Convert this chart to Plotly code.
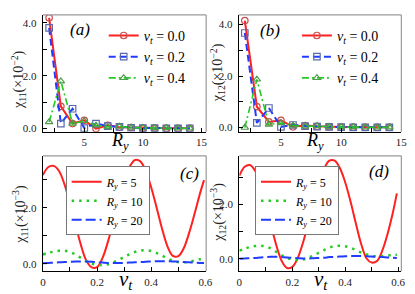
import plotly.graph_objects as go

# ---------------- data ----------------
ry = [2, 3, 4, 5, 6, 7, 8, 9, 10, 11, 12, 13, 14]
chi11_vt00 = [4.19, 0.84, 0.19, 0.31, 0.00, 0.12, 0.05, 0.04, 0.02, 0.02, 0.01, 0.01, 0.01]
chi11_vt02 = [3.81, 0.19, 0.75, 0.02, 0.19, 0.09, 0.06, 0.03, 0.02, 0.02, 0.01, 0.01, 0.01]
chi11_vt04 = [0.25, 1.79, 0.19, 0.29, 0.12, 0.06, 0.08, 0.04, 0.03, 0.02, 0.02, 0.01, 0.01]
chi12_vt00 = [4.15, 0.81, 0.22, 0.28, 0.03, 0.08, 0.05, 0.03, 0.02, 0.02, 0.01, 0.01, 0.01]
chi12_vt02 = [3.67, 0.18, 0.76, 0.03, 0.10, 0.06, 0.04, 0.03, 0.02, 0.01, 0.01, 0.01, 0.01]
chi12_vt04 = [0.00, 1.87, 0.12, 0.18, 0.08, 0.05, 0.06, 0.03, 0.02, 0.02, 0.01, 0.01, 0.01]

vt = [0.0, 0.02, 0.04, 0.06, 0.08, 0.10, 0.12, 0.14, 0.16, 0.18, 0.20, 0.22, 0.24, 0.26,
      0.28, 0.30, 0.32, 0.34, 0.36, 0.38, 0.40, 0.42, 0.44, 0.46, 0.48, 0.50, 0.52, 0.54,
      0.56, 0.58, 0.595]
chi11_ry5 = [3.16, 3.45, 3.49, 3.30, 2.82, 2.15, 1.40, 0.68, 0.12, -0.13, -0.12, 0.20, 0.78,
             1.50, 2.28, 2.97, 3.45, 3.70, 3.65, 3.30, 2.72, 2.00, 1.25, 0.62, 0.28, 0.27,
             0.55, 1.10, 1.78, 2.50, 2.98]
chi11_ry10 = [0.33, 0.39, 0.43, 0.46, 0.46, 0.42, 0.33, 0.21, 0.09, 0.00, -0.04, -0.05, -0.02,
              0.05, 0.14, 0.24, 0.34, 0.42, 0.47, 0.48, 0.45, 0.38, 0.29, 0.19, 0.11, 0.06,
              0.05, 0.07, 0.11, 0.16, 0.20]
chi11_ry20 = [0.02, 0.03, 0.04, 0.05, 0.06, 0.07, 0.08, 0.08, 0.08, 0.07, 0.05, 0.04, 0.03,
              0.03, 0.03, 0.03, 0.04, 0.05, 0.06, 0.07, 0.08, 0.09, 0.09, 0.09, 0.08, 0.07,
              0.06, 0.05, 0.04, 0.03, 0.03]
chi12_ry5 = [3.05, 3.38, 3.44, 3.22, 2.72, 2.02, 1.22, 0.48, -0.08, -0.34, -0.30, 0.02, 0.58,
             1.30, 2.08, 2.78, 3.30, 3.60, 3.60, 3.32, 2.80, 2.10, 1.30, 0.55, 0.02, -0.14,
             -0.08, 0.30, 0.92, 1.70, 2.40]
chi12_ry10 = [0.30, 0.37, 0.43, 0.47, 0.48, 0.45, 0.37, 0.25, 0.13, 0.03, -0.03, -0.05, -0.03,
              0.03, 0.12, 0.22, 0.32, 0.41, 0.46, 0.48, 0.46, 0.40, 0.32, 0.23, 0.16, 0.11,
              0.09, 0.10, 0.12, 0.14, 0.15]
chi12_ry20 = [0.00, 0.01, 0.02, 0.03, 0.05, 0.06, 0.07, 0.07, 0.06, 0.05, 0.03, 0.02, 0.01,
              0.01, 0.02, 0.03, 0.04, 0.06, 0.07, 0.08, 0.09, 0.10, 0.10, 0.10, 0.09, 0.08,
              0.07, 0.06, 0.05, 0.04, 0.03]

vt_labels = ["<i>v</i><sub><i>t</i></sub> = 0.0", "<i>v</i><sub><i>t</i></sub> = 0.2",
             "<i>v</i><sub><i>t</i></sub> = 0.4"]
ry_labels = ["<i>R</i><sub><i>y</i></sub> = 5", "<i>R</i><sub><i>y</i></sub> = 10",
             "<i>R</i><sub><i>y</i></sub> = 20"]

# ---------------- styling ----------------
FONT = "Liberation Serif"
W, H = 415, 294
RED, BLUE, GREEN = "#ff2020", "#1f3cff", "#22cc22"
MRED, MBLUE, MGREEN = "#c85050", "#5a6aa8", "#4c9c4c"

fig = go.Figure()

top_series = [
    (chi11_vt00, chi11_vt02, chi11_vt04, "x", "y", "legend"),
    (chi12_vt00, chi12_vt02, chi12_vt04, "x2", "y2", "legend2"),
]
for s0, s2, s4, xa, ya, lg in top_series:
    fig.add_trace(go.Scatter(x=ry, y=s0, xaxis=xa, yaxis=ya, legend=lg, name=vt_labels[0],
                             mode="lines+markers", line=dict(color=RED, width=2),
                             marker=dict(symbol="circle-open", size=6.5, color=MRED,
                                         line=dict(width=1.2))))
    fig.add_trace(go.Scatter(x=ry, y=s2, xaxis=xa, yaxis=ya, legend=lg, name=vt_labels[1],
                             mode="lines+markers", line=dict(color=BLUE, width=2, dash="7px,4px"),
                             marker=dict(symbol="square-open", size=6.5, color=MBLUE,
                                         line=dict(width=1.2))))
    fig.add_trace(go.Scatter(x=ry, y=s4, xaxis=xa, yaxis=ya, legend=lg, name=vt_labels[2],
                             mode="lines+markers",
                             line=dict(color=GREEN, width=1.6, dash="7px,3px,2px,3px"),
                             marker=dict(symbol="triangle-up-open", size=6.5, color=MGREEN,
                                         line=dict(width=1.2))))

bot_series = [
    (chi11_ry5, chi11_ry10, chi11_ry20, "x3", "y3", "legend3"),
    (chi12_ry5, chi12_ry10, chi12_ry20, "x4", "y4", "legend4"),
]
for s5, s10, s20, xa, ya, lg in bot_series:
    fig.add_trace(go.Scatter(x=vt, y=s5, xaxis=xa, yaxis=ya, legend=lg, name=ry_labels[0],
                             mode="lines", line=dict(color=RED, width=2, shape="spline")))
    fig.add_trace(go.Scatter(x=vt, y=s10, xaxis=xa, yaxis=ya, legend=lg, name=ry_labels[1],
                             mode="lines", line=dict(color=GREEN, width=2.5, dash="2.5px,5px",
                                                      shape="spline")))
    fig.add_trace(go.Scatter(x=vt, y=s20, xaxis=xa, yaxis=ya, legend=lg, name=ry_labels[2],
                             mode="lines", line=dict(color=BLUE, width=2, dash="10px,4px",
                                                      shape="spline")))


def px(x):
    return x / W


def py(y):
    return 1 - y / H


axis_common = dict(showline=True, linecolor="black", linewidth=1.2, mirror=False,
                   ticks="inside", ticklen=4, tickcolor="black", showgrid=False,
                   zeroline=False, tickfont=dict(family=FONT, size=11, color="#222"))

fig.update_layout(
    width=W, height=H, autosize=False,
    margin=dict(l=0, r=0, t=0, b=0),
    paper_bgcolor="white", plot_bgcolor="white",
    font=dict(family=FONT, color="black"),
    xaxis=dict(domain=[px(32.7), px(200)], range=[1.47, 15.4], anchor="y",
               tickvals=[2.5, 5, 7.5, 10, 12.5, 15], ticktext=["", "5", "", "10", "", "15"],
               **axis_common),
    yaxis=dict(domain=[py(125), py(7)], range=[-0.12, 4.3], anchor="x",
               tickvals=[0, 1, 2, 3, 4], ticktext=["0.0", "", "2.0", "", "4.0"],
               ticklabelstandoff=3, **axis_common),
    xaxis2=dict(domain=[px(233.3), px(400)], range=[1.49, 15.0], anchor="y2",
                tickvals=[2.5, 5, 7.5, 10, 12.5, 15], ticktext=["", "5", "", "10", "", "15"],
                **axis_common),
    yaxis2=dict(domain=[py(125), py(7)], range=[-0.16, 4.37], anchor="x2",
                tickvals=[0, 1, 2, 3, 4], ticktext=["0.0", "", "2.0", "", "4.0"],
                ticklabelstandoff=3, **axis_common),
    xaxis3=dict(domain=[px(32.7), px(200)], range=[0, 0.603], anchor="y3",
                tickvals=[0, 0.1, 0.2, 0.3, 0.4, 0.5, 0.6],
                ticktext=["0", "", "0.2", "", "0.4", "", "0.6"], **axis_common),
    yaxis3=dict(domain=[py(266), py(149.3)], range=[-0.27, 3.85], anchor="x3",
                tickvals=[0, 1, 2, 3], ticktext=["0.0", "", "2.0", ""],
                ticklabelstandoff=3, **axis_common),
    xaxis4=dict(domain=[px(234), px(400)], range=[0, 0.612], anchor="y4",
                tickvals=[0, 0.1, 0.2, 0.3, 0.4, 0.5, 0.6],
                ticktext=["0", "", "0.2", "", "0.4", "", "0.6"], **axis_common),
    yaxis4=dict(domain=[py(266), py(149.3)], range=[-0.46, 3.78], anchor="x4",
                tickvals=[0, 1, 2, 3], ticktext=["0.0", "", "2.0", ""],
                ticklabelstandoff=3, **axis_common),
    legend=dict(x=px(95), y=py(12), xanchor="left", yanchor="top", bgcolor="rgba(0,0,0,0)",
                font=dict(family=FONT, size=14), itemwidth=30, tracegroupgap=0),
    legend2=dict(x=px(293), y=py(12), xanchor="left", yanchor="top", bgcolor="rgba(0,0,0,0)",
                 font=dict(family=FONT, size=14), itemwidth=30, tracegroupgap=0),
    legend3=dict(x=px(56), y=py(160), xanchor="left", yanchor="top", bgcolor="white",
                 bordercolor="#777", borderwidth=1,
                 font=dict(family=FONT, size=12), itemwidth=30, tracegroupgap=0),
    legend4=dict(x=px(250), y=py(160), xanchor="left", yanchor="top", bgcolor="white",
                 bordercolor="#777", borderwidth=1,
                 font=dict(family=FONT, size=12), itemwidth=30, tracegroupgap=0),
    showlegend=True,
)

# gray top/right frame lines
shapes = []
for xa, ya in [("x", "y"), ("x2", "y2"), ("x3", "y3"), ("x4", "y4")]:
    shapes.append(dict(type="line", xref=xa + " domain", yref=ya + " domain",
                       x0=0, x1=1, y0=1, y1=1, line=dict(color="#999", width=1.2)))
    shapes.append(dict(type="line", xref=xa + " domain", yref=ya + " domain",
                       x0=1, x1=1, y0=0, y1=1, line=dict(color="#999", width=1.2)))
fig.update_layout(shapes=shapes)

ann = []
# panel labels
for txt, x, y in [("(a)", 71, 22), ("(b)", 265, 23), ("(c)", 183, 167), ("(d)", 377, 165)]:
    ann.append(dict(text="<i>" + txt + "</i>", x=px(x), y=py(y), xref="paper", yref="paper",
                    xanchor="center", yanchor="middle",
                    showarrow=False, font=dict(family=FONT, size=17, color="black")))
# y titles
for txt, x, y in [("χ<sub>11</sub>(×10<sup>−2</sup>)", 8, 72),
                  ("χ<sub>12</sub>(×10<sup>−2</sup>)", 212, 65),
                  ("χ<sub>11</sub>(×10<sup>−3</sup>)", 9, 208),
                  ("χ<sub>12</sub>(×10<sup>−3</sup>)", 212, 206)]:
    ann.append(dict(text=txt, x=px(x), y=py(y), xref="paper", yref="paper", textangle=-90,
                    xanchor="center", yanchor="middle",
                    showarrow=False, font=dict(family=FONT, size=14, color="#222")))
# x titles
for txt, x, y, s in [("<i>R</i><sub><i>y</i></sub>", 112, 135, 18),
                     ("<i>R</i><sub><i>y</i></sub>", 312, 135, 18),
                     ("<i>v</i><sub><i>t</i></sub>", 118, 275, 21),
                     ("<i>v</i><sub><i>t</i></sub>", 318, 275, 21)]:
    ann.append(dict(text=txt, x=px(x), y=py(y), xref="paper", yref="paper",
                    xanchor="center", yanchor="middle",
                    showarrow=False, font=dict(family=FONT, size=s, color="black")))
fig.update_layout(annotations=ann)

fig.write_html("out.html")
